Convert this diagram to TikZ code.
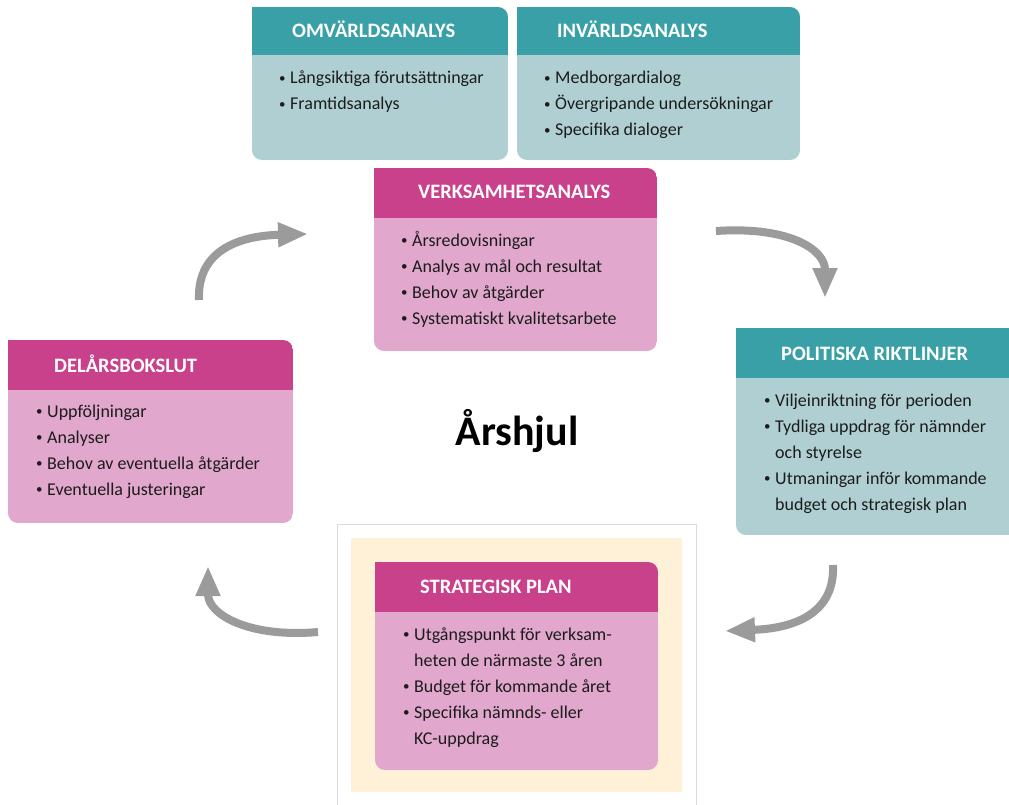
\documentclass[tikz,border=0pt]{standalone}
\usepackage{fontspec}
\setmainfont{Carlito}
\usetikzlibrary{arrows.meta}
\definecolor{tealhead}{HTML}{3AA0A7}
\definecolor{tealbody}{HTML}{AFCFD2}
\definecolor{maghead}{HTML}{C9408B}
\definecolor{magbody}{HTML}{E1A7CD}
\definecolor{creambg}{HTML}{FEF1D7}
\definecolor{arrowgray}{HTML}{9B9B9B}
\definecolor{framegray}{HTML}{DADADA}
\definecolor{bodytext}{HTML}{1C1C1C}
% #1 left, #2 top, #3 right, #4 bottom, #5 header bottom, #6 head colour, #7 body colour
\newcommand\panelbox[7]{%
  \begin{scope}
    \clip[rounded corners=10pt] (#1,#2) rectangle (#3,#4);
    \fill[#6] (#1,#2) rectangle (#3,#5);
    \fill[#7] (#1,#5) rectangle (#3,#4);
  \end{scope}
  \fill[#6] (#1,#2) rectangle (#1+12,#2+12);
}
\tikzset{
  headtext/.style={anchor=base west, inner sep=0pt, text=white, font=\fontsize{20.5}{24}\selectfont\bfseries},
  bodylist/.style={anchor=base west, inner sep=0pt, text=bodytext, font=\fontsize{18}{26}\selectfont},
  cyclearrow/.style={draw=arrowgray, line width=8pt, -{Triangle[width=23pt,length=30pt]}, fill=none},
}
\newcommand\bul{\makebox[11pt][l]{\raisebox{1.3pt}{\fontsize{13}{13}\selectfont\textbullet}}}
\newcommand\ind{\hspace*{11pt}}
\newenvironment{blist}{\begin{tabular}[t]{@{}l@{}}}{\end{tabular}}
\begin{document}
\begin{tikzpicture}[x=1pt,y=-1pt]
\useasboundingbox (0,0) rectangle (1009,805);
\clip (0,0) rectangle (1009,805);
\fill[white] (0,0) rectangle (1009,805);

% strategic plan frame
\filldraw[fill=white, draw=framegray, line width=1pt] (337,820) -- (337,524) -- (696,524) -- (696,820);
\fill[creambg] (351,538) rectangle (682,792);

% boxes
\panelbox{252}{7}{508}{160}{55}{tealhead}{tealbody}
\panelbox{517}{7}{800}{160}{55}{tealhead}{tealbody}
\panelbox{374}{168}{657}{351}{218}{maghead}{magbody}
\panelbox{736}{328}{1030}{535}{378}{tealhead}{tealbody}
\panelbox{8}{340}{293}{523}{390}{maghead}{magbody}
\panelbox{375}{562}{658}{770}{612}{maghead}{magbody}

% headers
\node[headtext] (omvh) at (292,38) {OMVÄRLDSANALYS};
\node[headtext] (invh) at (557,38) {INVÄRLDSANALYS};
\node[headtext] (verkh) at (418,199) {VERKSAMHETSANALYS};
\node[headtext] (polh) at (781,360) {POLITISKA RIKTLINJER};
\node[headtext] (delh) at (54,372) {DELÅRSBOKSLUT};
\node[headtext] (strath) at (420,593) {STRATEGISK PLAN};

% bodies
\node[bodylist] (omvb) at (279,84) {\begin{blist}\bul Långsiktiga förutsättningar\\\bul Framtidsanalys\end{blist}};
\node[bodylist] (invb) at (544,84) {\begin{blist}\bul Medborgardialog\\\bul Övergripande undersökningar\\\bul Specifika dialoger\end{blist}};
\node[bodylist] (verkb) at (401,246) {\begin{blist}\bul Årsredovisningar\\\bul Analys av mål och resultat\\\bul Behov av åtgärder\\\bul Systematiskt kvalitetsarbete\end{blist}};
\node[bodylist] (polb) at (764,406) {\begin{blist}\bul Viljeinriktning för perioden\\\bul Tydliga uppdrag för nämnder\\\ind och styrelse\\\bul Utmaningar inför kommande\\\ind budget och strategisk plan\end{blist}};
\node[bodylist] (delb) at (36,417) {\begin{blist}\bul Uppföljningar\\\bul Analyser\\\bul Behov av eventuella åtgärder\\\bul Eventuella justeringar\end{blist}};
\node[bodylist] (stratb) at (403,640) {\begin{blist}\bul Utgångspunkt för verksam-\\\ind heten de närmaste 3 åren\\\bul Budget för kommande året\\\bul Specifika nämnds- eller\\\ind KC-uppdrag\end{blist}};

% title
\node[anchor=base, inner sep=0pt, font=\fontsize{42}{46}\selectfont\bfseries] (title) at (517,445) {Årshjul};

% cycle arrows
\coordinate (a1s) at (199,300); \coordinate (a1e) at (308,234);
\coordinate (a2s) at (716,231); \coordinate (a2e) at (825,298);
\coordinate (a3s) at (833,565); \coordinate (a3e) at (725,631);
\coordinate (a4s) at (318,632); \coordinate (a4e) at (208,566);
\draw[cyclearrow] (a1s) .. controls (197,255) and (232,236) .. (a1e);
\draw[cyclearrow] (a2s) .. controls (790,226) and (825,250) .. (a2e);
\draw[cyclearrow] (a3s) .. controls (835,610) and (800,628) .. (a3e);
\draw[cyclearrow] (a4s) .. controls (250,638) and (208,615) .. (a4e);
\end{tikzpicture}
\end{document}
